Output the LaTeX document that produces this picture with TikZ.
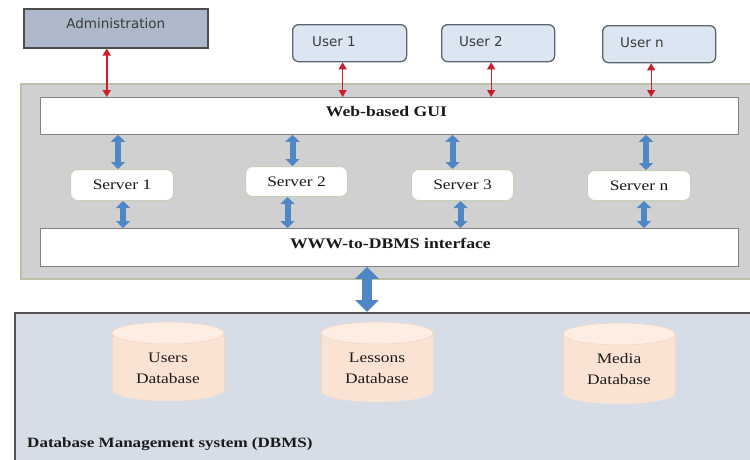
\documentclass[tikz,border=0pt]{standalone}
\usepackage{fontspec}
\setmainfont{Liberation Serif}
\newfontfamily\stretchserif[FakeStretch=1.2]{Liberation Serif}
\newfontfamily\dvsans{DejaVu Sans}
\usetikzlibrary{arrows.meta,calc}
\definecolor{adminfill}{HTML}{ADB9CA}
\definecolor{adminborder}{HTML}{4D4D4D}
\definecolor{userfill}{HTML}{DCE6F2}
\definecolor{userborder}{HTML}{5C6470}
\definecolor{corefill}{HTML}{D0D0D0}
\definecolor{coreborder}{HTML}{B9C2A6}
\definecolor{guiborder}{HTML}{808080}
\definecolor{serverborder}{HTML}{C8D0B8}
\definecolor{bluearrow}{HTML}{4E87C4}
\definecolor{redarrow}{HTML}{C8202F}
\definecolor{dbmsfill}{HTML}{D6DDE7}
\definecolor{dbmsborder}{HTML}{555555}
\definecolor{dbbody}{HTML}{FBE3D4}
\definecolor{dbtop}{HTML}{FDEDE3}
\definecolor{dbedge}{HTML}{F3D6C4}
\definecolor{sanstext}{HTML}{3A3A3A}
\definecolor{seriftext}{HTML}{1A1A1A}
\begin{document}
\begin{tikzpicture}[x=1pt,y=-1pt,
  nw/.style={anchor=north west, inner sep=0pt},
  adminbox/.style={nw, fill=adminfill, draw=adminborder, line width=1.5pt},
  userbox/.style={nw, fill=userfill, draw=userborder, line width=1.3pt, rounded corners=6pt},
  corebox/.style={nw, fill=corefill, draw=coreborder, line width=1.5pt},
  whitebar/.style={nw, fill=white, draw=guiborder, line width=0.8pt},
  serverbox/.style={nw, fill=white, draw=serverborder, line width=1pt, rounded corners=7pt},
  dbmsbox/.style={nw, fill=dbmsfill, draw=dbmsborder, line width=1.5pt},
  sanslabel/.style={inner sep=0pt, text=sanstext, font=\dvsans\fontsize{13.5}{16}\selectfont},
  seriflabel/.style={inner sep=0pt, text=seriftext, font=\stretchserif\fontsize{14.5}{17}\selectfont},
  boldlabel/.style={inner sep=0pt, text=seriftext, font=\stretchserif\bfseries\fontsize{14.7}{17}\selectfont},
  dblabel/.style={inner sep=0pt, text=seriftext, align=center, font=\stretchserif\fontsize{14.5}{21}\selectfont},
  redarr/.style={draw=redarrow, line width=1.3pt, {Triangle[width=8pt,length=7pt]}-{Triangle[width=8pt,length=7pt]}},
  bluearr/.style={draw=bluearrow, line width=6pt, {Triangle[width=14pt,length=7pt]}-{Triangle[width=14pt,length=7pt]}},
  bigarr/.style={draw=bluearrow, line width=10pt, {Triangle[width=23pt,length=12pt]}-{Triangle[width=23pt,length=12pt]}},
]
\useasboundingbox (0,0) rectangle (750,459);
\fill[white] (0,0) rectangle (750,459);

% Core gray container
\node[corebox, minimum width=732pt, minimum height=195pt] (core) at (20,83) {};
% Web GUI and WWW bars
\node[whitebar, minimum width=698pt, minimum height=37pt] (gui) at (40,97) {};
\node[boldlabel] (guitext) at ($(gui.center)+(-3,-4)$) {Web-based GUI};
\node[whitebar, minimum width=698pt, minimum height=38pt] (www) at (40,228) {};
\node[boldlabel] (wwwtext) at ($(www.center)+(1,-4)$) {WWW-to-DBMS interface};

% Servers
\node[serverbox, minimum width=103pt, minimum height=31pt] (s1) at (70,169) {};
\node[seriflabel] (s1t) at (s1.center) {Server 1};
\node[serverbox, minimum width=102pt, minimum height=30pt] (s2) at (245,166) {};
\node[seriflabel] (s2t) at (s2.center) {Server 2};
\node[serverbox, minimum width=102pt, minimum height=31pt] (s3) at (411,169) {};
\node[seriflabel] (s3t) at (s3.center) {Server 3};
\node[serverbox, minimum width=103pt, minimum height=30pt] (sn) at (587,170) {};
\node[seriflabel] (snt) at (sn.center) {Server n};

% Blue arrows GUI <-> servers
\draw[bluearr] ([xshift=-4pt]s1.north) -- ([xshift=-4pt]s1.north |- gui.south);
\draw[bluearr] ([xshift=-4pt]s2.north) -- ([xshift=-4pt]s2.north |- gui.south);
\draw[bluearr] ([xshift=-10pt]s3.north) -- ([xshift=-10pt]s3.north |- gui.south);
\draw[bluearr] ([xshift=7pt]sn.north) -- ([xshift=7pt]sn.north |- gui.south);
% Blue arrows servers <-> WWW
\draw[bluearr] ([xshift=1pt]s1.south) -- ([xshift=1pt]s1.south |- www.north);
\draw[bluearr] ([xshift=-9pt]s2.south) -- ([xshift=-9pt]s2.south |- www.north);
\draw[bluearr] ([xshift=-2pt]s3.south) -- ([xshift=-2pt]s3.south |- www.north);
\draw[bluearr] ([xshift=5pt]sn.south) -- ([xshift=5pt]sn.south |- www.north);

% Administration and users
\node[adminbox, minimum width=184pt, minimum height=39pt] (admin) at (23,8) {};
\node[sanslabel] (admint) at ($(admin.center)+(0,-5)$) {Administration};
\node[userbox, minimum width=114pt, minimum height=37pt] (u1) at (292,24) {};
\node[sanslabel] (u1t) at (334,42) {User 1};
\node[userbox, minimum width=113pt, minimum height=37pt] (u2) at (441,24) {};
\node[sanslabel] (u2t) at (481,42) {User 2};
\node[userbox, minimum width=113pt, minimum height=37pt] (un) at (602,25) {};
\node[sanslabel] (unt) at (642,43) {User n};

% Red arrows
\draw[redarr, line width=2pt] ([xshift=-9pt]admin.south) -- ([xshift=-9pt]admin.south |- gui.north);
\draw[redarr] ([xshift=-7pt]u1.south) -- ([xshift=-7pt]u1.south |- gui.north);
\draw[redarr] ([xshift=-7pt]u2.south) -- ([xshift=-7pt]u2.south |- gui.north);
\draw[redarr] ([xshift=-8pt]un.south) -- ([xshift=-8pt]un.south |- gui.north);

% DBMS
\node[dbmsbox, minimum width=740pt, minimum height=150pt] (dbms) at (14,312) {};
\node[boldlabel, anchor=west, font=\stretchserif\bfseries\fontsize{14.2}{17}\selectfont] (dbmst) at (27,444) {Database Management system (DBMS)};
\coordinate (bigx) at (367,0);
\draw[bigarr] (bigx |- www.south) -- (bigx |- dbms.north);

% Cylinders
\foreach \cx/\t/\b/\name/\txt in {168/322/401/udb/{Users\\Database}, 377/322/402/ldb/{Lessons\\Database}, 619/323/404/mdb/{Media\\Database}}{
  \fill[dbbody] (\cx-56,\t+11) rectangle (\cx+56,\b-11);
  \fill[dbbody] (\cx,\b-11) ellipse [x radius=56pt, y radius=11pt];
  \draw[dbedge, line width=0.8pt] (\cx-56,\t+11) -- (\cx-56,\b-11);
  \draw[dbedge, line width=0.8pt] (\cx+56,\t+11) -- (\cx+56,\b-11);
  \fill[dbtop] (\cx,\t+11) ellipse [x radius=56pt, y radius=11pt];
  \draw[dbedge, line width=0.6pt] (\cx,\t+11) ellipse [x radius=56pt, y radius=11pt];
  \node[dblabel] (\name) at (\cx,\t+46) {\txt};
}
\end{tikzpicture}
\end{document}
